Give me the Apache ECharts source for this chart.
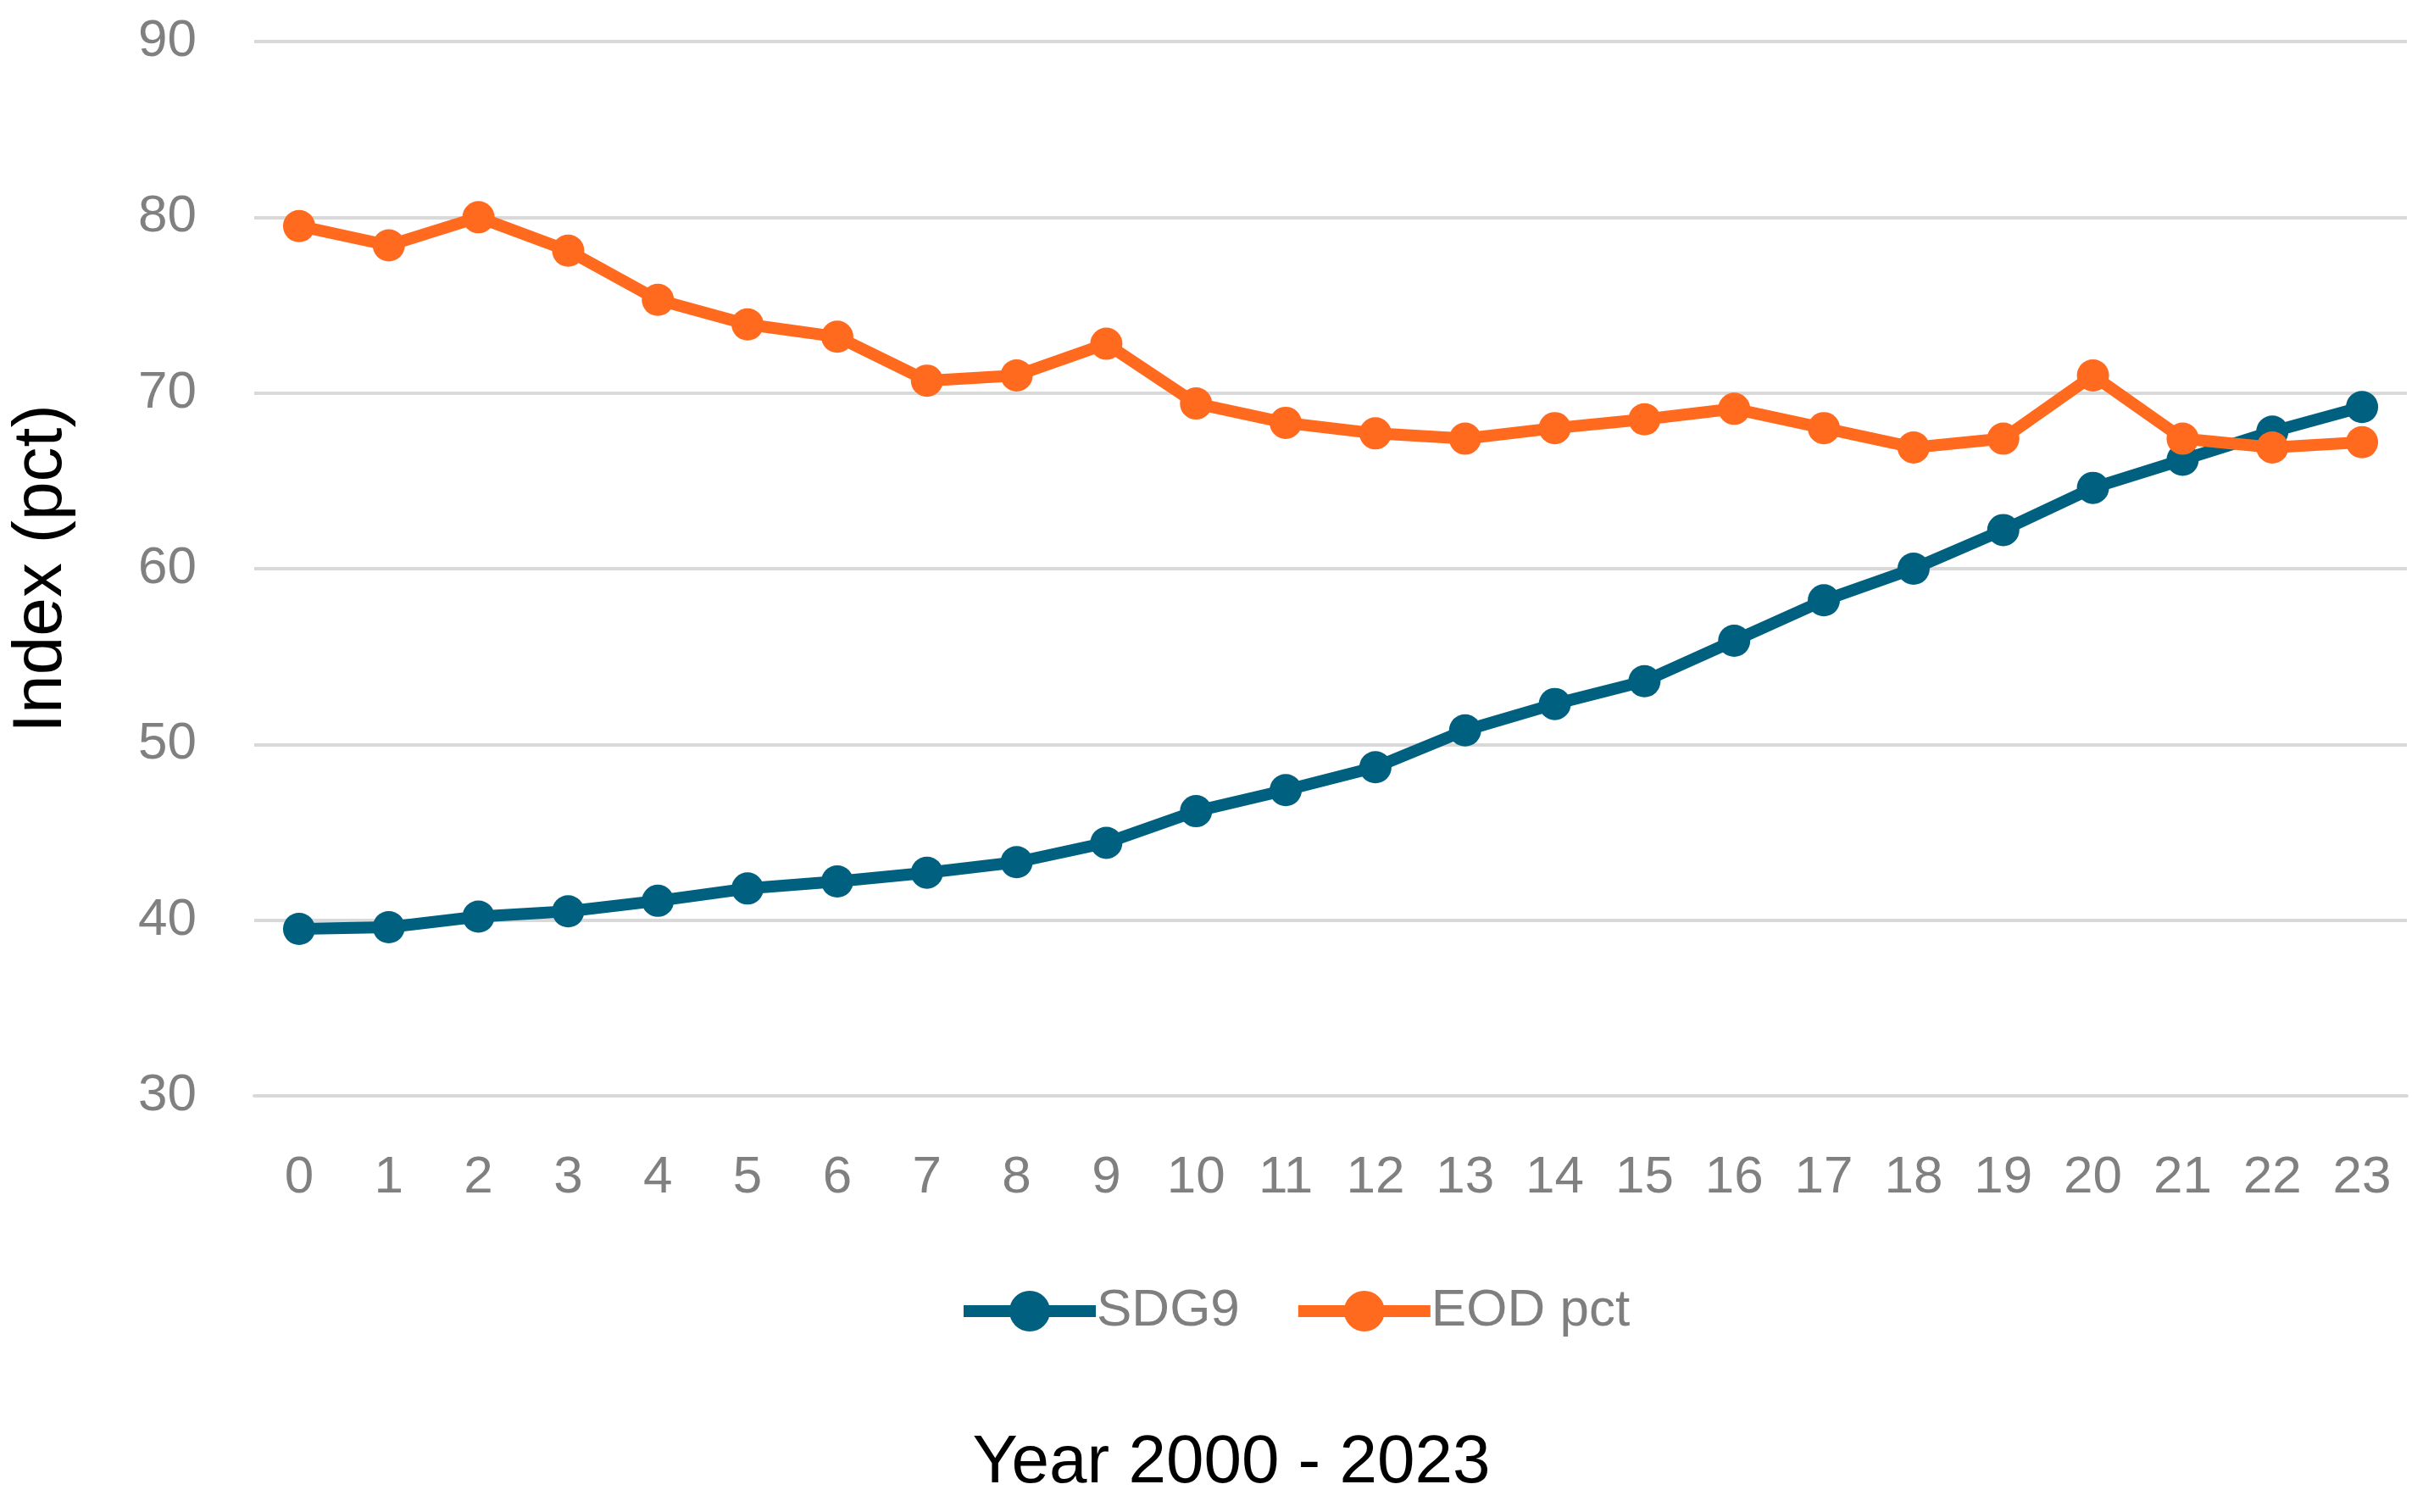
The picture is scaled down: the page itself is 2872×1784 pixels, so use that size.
<!DOCTYPE html>
<html>
<head>
<meta charset="utf-8">
<script src="https://cdn.jsdelivr.net/npm/echarts@6/dist/echarts.min.js"></script>
<style>html,body{margin:0;padding:0;background:#fff;}#c{width:2872px;height:1784px;}</style>
</head>
<body>
<div id="c"></div>
<script>
const categories = ["0","1","2","3","4","5","6","7","8","9","10","11","12","13","14","15","16","17","18","19","20","21","22","23"];
const sdg9 = [39.5,39.6,40.2,40.5,41.1,41.8,42.2,42.7,43.3,44.4,46.2,47.4,48.7,50.8,52.3,53.6,55.9,58.2,60.0,62.2,64.6,66.2,67.8,69.2];
const eodPct = [79.5,78.4,80.0,78.1,75.3,73.9,73.2,70.7,71.0,72.8,69.4,68.3,67.7,67.4,68.0,68.5,69.1,68.0,66.9,67.4,71.0,67.4,66.9,67.2];
const yTicks = {min: 30, max: 90, interval: 10};

const chart = echarts.init(document.getElementById('c'));
const BLUE = '#00607F', ORANGE = '#FF6A1F';
chart.setOption({
  backgroundColor: '#ffffff',
  animation: false,
  grid: {left: 297, right: 32, top: 49, bottom: 491, containLabel: false},
  legend: {
    left: 1125, top: 1511,
    itemWidth: 156, itemHeight: 60, itemGap: 62,
    lineStyle: {width: 14},
    textStyle: {fontFamily: 'Liberation Sans', fontSize: 62, color: '#7f7f7f', padding: [0,0,0,-4]},
    data: ['SDG9', 'EOD pct']
  },
  xAxis: {
    type: 'category', data: categories, boundaryGap: true,
    axisLine: {show: true, lineStyle: {color: '#d9d9d9', width: 4}},
    axisTick: {show: false},
    axisLabel: {fontFamily: 'Liberation Sans', fontSize: 62, color: '#808080', margin: 66, interval: 0},
    name: 'Year 2000 - 2023', nameLocation: 'middle', nameGap: 394,
    nameTextStyle: {fontFamily: 'Liberation Sans', fontSize: 80, color: '#000', padding: [0, 234, 0, 0]}
  },
  yAxis: {
    type: 'value', min: yTicks.min, max: yTicks.max, interval: yTicks.interval,
    axisLine: {show: false}, axisTick: {show: false},
    splitLine: {lineStyle: {color: '#d9d9d9', width: 4}},
    axisLabel: {fontFamily: 'Liberation Sans', fontSize: 62, color: '#808080', margin: 68},
    name: 'Index (pct)', nameLocation: 'middle', nameGap: 210, nameRotate: 90,
    nameTextStyle: {fontFamily: 'Liberation Sans', fontSize: 82, color: '#000'}
  },
  series: [
    {name: 'SDG9', type: 'line', data: sdg9, symbol: 'circle', symbolSize: 38,
     lineStyle: {color: BLUE, width: 14}, itemStyle: {color: BLUE}, z: 2},
    {name: 'EOD pct', type: 'line', data: eodPct, symbol: 'circle', symbolSize: 38,
     lineStyle: {color: ORANGE, width: 14}, itemStyle: {color: ORANGE}, z: 3}
  ]
});
</script>
</body>
</html>
